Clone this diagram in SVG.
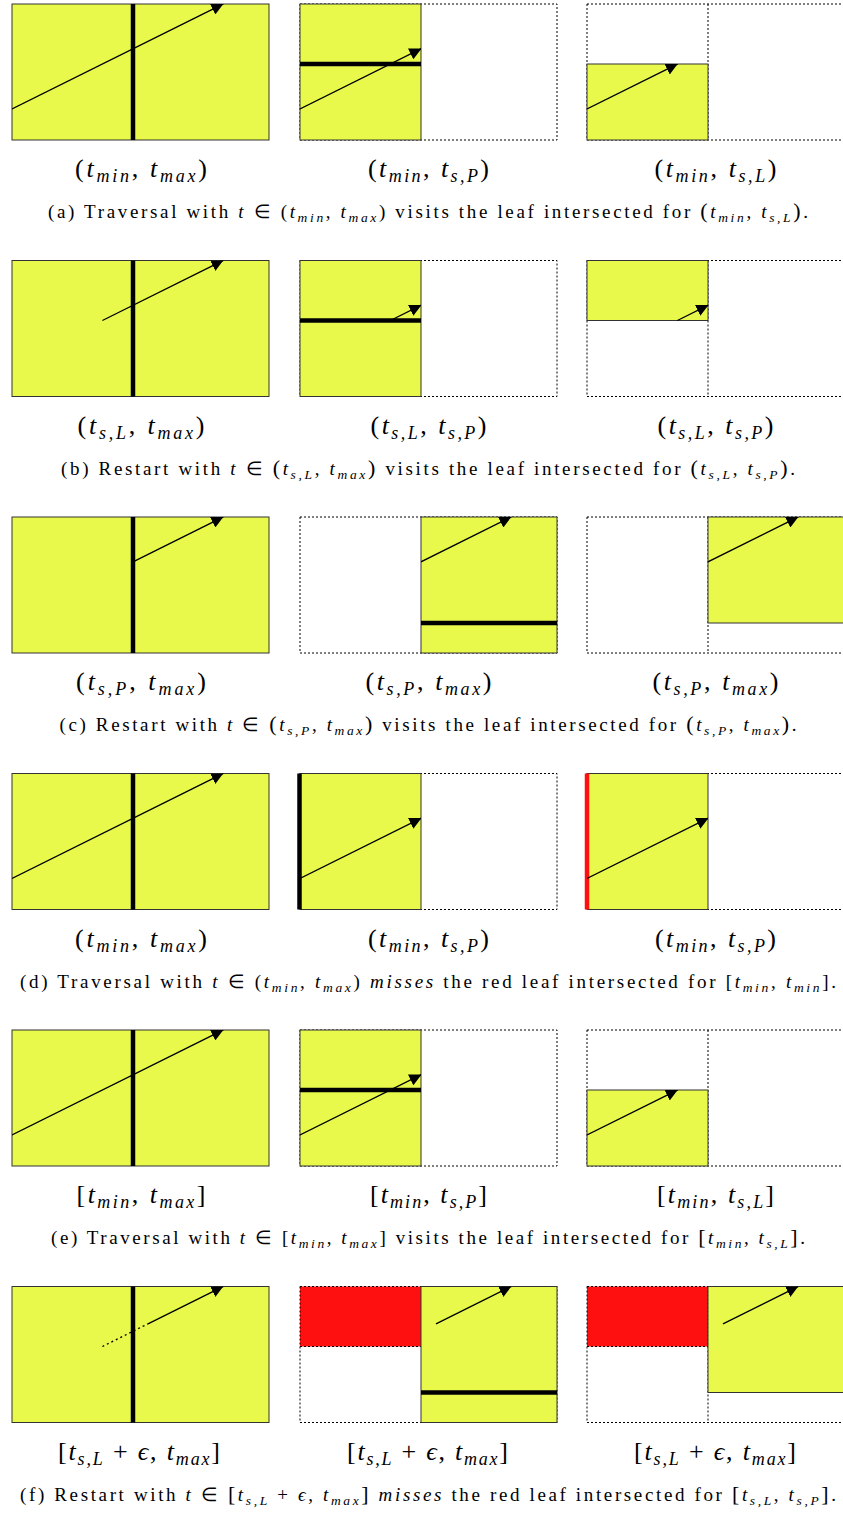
<svg xmlns="http://www.w3.org/2000/svg" width="843" height="1513" viewBox="0 0 843 1513">
<style>
.y{fill:#E9F94C;stroke:#333;stroke-width:1}
.d{fill:none;stroke:#000;stroke-width:1;stroke-dasharray:2 2}
.k{stroke:#000;stroke-width:4.5}
.kr{stroke:#FF1010;stroke-width:4.5}
.ray{stroke:#000;stroke-width:1.3;fill:none;marker-end:url(#ah)}
.rd{stroke:#000;stroke-width:1.3;stroke-dasharray:2 3;fill:none}
.red{fill:#FF1010}
.lb{font-family:"Liberation Serif",serif;font-size:26px;text-anchor:middle;fill:#000}
.cap{font-family:"Liberation Serif",serif;font-size:19px;text-anchor:middle;fill:#000}
.i{font-style:italic}
.ls{font-size:18px;font-style:italic}
.cs{font-size:13.5px;font-style:italic}
.bp{font-size:22px}
</style>
<defs>
<marker id="ah" markerUnits="userSpaceOnUse" viewBox="0 0 12 12" refX="12" refY="6" markerWidth="12" markerHeight="12" orient="auto"><path d="M0,0 L12,6 L0,12 Z" fill="#000"/></marker>
<clipPath id="cF" clipPathUnits="userSpaceOnUse"><rect x="0" y="0" width="257" height="136"/></clipPath>
<clipPath id="cL" clipPathUnits="userSpaceOnUse"><rect x="0" y="0" width="121" height="136"/></clipPath>
<clipPath id="cBL" clipPathUnits="userSpaceOnUse"><rect x="0" y="60" width="121" height="76"/></clipPath>
<clipPath id="cTL" clipPathUnits="userSpaceOnUse"><rect x="-1" y="0" width="122" height="61"/></clipPath>
<clipPath id="cR" clipPathUnits="userSpaceOnUse"><rect x="121" y="0" width="136" height="136"/></clipPath>
<clipPath id="cTR" clipPathUnits="userSpaceOnUse"><rect x="121" y="0" width="136" height="106"/></clipPath>
</defs>

<!-- Row (a) -->
<g id="a1" transform="translate(12,4)">
<rect class="y" x="0" y="0" width="257" height="136"/>
<line class="k" x1="121" y1="0" x2="121" y2="136"/>
<g clip-path="url(#cF)"><line class="ray" x1="0" y1="105" x2="211.4" y2="-0.2"/></g>
</g>
<g id="a2" transform="translate(300,4)">
<rect class="d" x="0" y="0" width="257" height="136"/>
<rect class="y" x="0" y="0" width="121" height="136"/>
<line class="k" x1="0" y1="60" x2="121" y2="60"/>
<g clip-path="url(#cL)"><line class="ray" x1="0" y1="105" x2="121.4" y2="44.6"/></g>
</g>
<g id="a3" transform="translate(587,4)">
<rect class="d" x="0" y="0" width="257" height="136"/>
<line class="d" x1="121" y1="0" x2="121" y2="136"/>
<rect class="y" x="0" y="60" width="121" height="76"/>
<g clip-path="url(#cBL)"><line class="ray" x1="0" y1="105" x2="90.8" y2="59.8"/></g>
</g>
<g id="a-labels">
<text class="lb" x="141" y="177" textLength="132" lengthAdjust="spacing">(<tspan class="i">t</tspan><tspan class="ls" dy="5">min</tspan><tspan dy="-5">, </tspan><tspan class="i">t</tspan><tspan class="ls" dy="5">max</tspan><tspan dy="-5">)</tspan></text>
<text class="lb" x="428.5" y="177" textLength="121" lengthAdjust="spacing">(<tspan class="i">t</tspan><tspan class="ls" dy="5">min</tspan><tspan dy="-5">, </tspan><tspan class="i">t</tspan><tspan class="ls" dy="5">s,P</tspan><tspan dy="-5">)</tspan></text>
<text class="lb" x="715.5" y="177" textLength="122" lengthAdjust="spacing">(<tspan class="i">t</tspan><tspan class="ls" dy="5">min</tspan><tspan dy="-5">, </tspan><tspan class="i">t</tspan><tspan class="ls" dy="5">s,L</tspan><tspan dy="-5">)</tspan></text>
<text class="cap" x="428" y="218" textLength="760" lengthAdjust="spacing">(a) Traversal with <tspan class="i">t</tspan> ∈ (<tspan class="i">t</tspan><tspan class="cs" dy="4">min</tspan><tspan dy="-4">, </tspan><tspan class="i">t</tspan><tspan class="cs" dy="4">max</tspan><tspan dy="-4">) visits the leaf intersected for </tspan><tspan class="bp">(</tspan><tspan class="i">t</tspan><tspan class="cs" dy="4">min</tspan><tspan dy="-4">, </tspan><tspan class="i">t</tspan><tspan class="cs" dy="4">s,L</tspan><tspan class="bp" dy="-4">)</tspan>.</text>
</g>

<!-- Row (b) -->
<g id="b1" transform="translate(12,260.5)">
<rect class="y" x="0" y="0" width="257" height="136"/>
<line class="k" x1="121" y1="0" x2="121" y2="136"/>
<g clip-path="url(#cF)"><line class="ray" x1="90.4" y1="60" x2="211.4" y2="-0.2"/></g>
</g>
<g id="b2" transform="translate(300,260.5)">
<rect class="d" x="0" y="0" width="257" height="136"/>
<rect class="y" x="0" y="0" width="121" height="136"/>
<line class="k" x1="0" y1="60" x2="121" y2="60"/>
<g clip-path="url(#cL)"><line class="ray" x1="90.4" y1="60" x2="121.4" y2="44.6"/></g>
</g>
<g id="b3" transform="translate(587,260.5)">
<rect class="d" x="0" y="0" width="257" height="136"/>
<line class="d" x1="121" y1="0" x2="121" y2="136"/>
<rect class="y" x="0" y="0" width="121" height="60"/>
<g clip-path="url(#cTL)"><line class="ray" x1="90.4" y1="60" x2="121.4" y2="44.6"/></g>
</g>
<g id="b-labels">
<text class="lb" x="141" y="433.5" textLength="127" lengthAdjust="spacing">(<tspan class="i">t</tspan><tspan class="ls" dy="5">s,L</tspan><tspan dy="-5">, </tspan><tspan class="i">t</tspan><tspan class="ls" dy="5">max</tspan><tspan dy="-5">)</tspan></text>
<text class="lb" x="428.5" y="433.5" textLength="116" lengthAdjust="spacing">(<tspan class="i">t</tspan><tspan class="ls" dy="5">s,L</tspan><tspan dy="-5">, </tspan><tspan class="i">t</tspan><tspan class="ls" dy="5">s,P</tspan><tspan dy="-5">)</tspan></text>
<text class="lb" x="715.5" y="433.5" textLength="116" lengthAdjust="spacing">(<tspan class="i">t</tspan><tspan class="ls" dy="5">s,L</tspan><tspan dy="-5">, </tspan><tspan class="i">t</tspan><tspan class="ls" dy="5">s,P</tspan><tspan dy="-5">)</tspan></text>
<text class="cap" x="428" y="474.5" textLength="734" lengthAdjust="spacing">(b) Restart with <tspan class="i">t</tspan> ∈ <tspan class="bp">(</tspan><tspan class="i">t</tspan><tspan class="cs" dy="4">s,L</tspan><tspan dy="-4">, </tspan><tspan class="i">t</tspan><tspan class="cs" dy="4">max</tspan><tspan class="bp" dy="-4">)</tspan> visits the leaf intersected for <tspan class="bp">(</tspan><tspan class="i">t</tspan><tspan class="cs" dy="4">s,L</tspan><tspan dy="-4">, </tspan><tspan class="i">t</tspan><tspan class="cs" dy="4">s,P</tspan><tspan class="bp" dy="-4">)</tspan>.</text>
</g>

<!-- Row (c) -->
<g id="c1" transform="translate(12,517)">
<rect class="y" x="0" y="0" width="257" height="136"/>
<line class="k" x1="121" y1="0" x2="121" y2="136"/>
<g clip-path="url(#cF)"><line class="ray" x1="121" y1="44.8" x2="211.4" y2="-0.2"/></g>
</g>
<g id="c2" transform="translate(300,517)">
<rect class="d" x="0" y="0" width="257" height="136"/>
<rect class="y" x="121" y="0" width="136" height="136"/>
<line class="k" x1="121" y1="106" x2="257" y2="106"/>
<g clip-path="url(#cR)"><line class="ray" x1="121" y1="44.8" x2="211.4" y2="-0.2"/></g>
</g>
<g id="c3" transform="translate(587,517)">
<rect class="d" x="0" y="0" width="257" height="136"/>
<line class="d" x1="121" y1="0" x2="121" y2="136"/>
<rect class="y" x="121" y="0" width="136" height="106"/>
<g clip-path="url(#cTR)"><line class="ray" x1="121" y1="44.8" x2="211.4" y2="-0.2"/></g>
</g>
<g id="c-labels">
<text class="lb" x="141" y="690" textLength="130" lengthAdjust="spacing">(<tspan class="i">t</tspan><tspan class="ls" dy="5">s,P</tspan><tspan dy="-5">, </tspan><tspan class="i">t</tspan><tspan class="ls" dy="5">max</tspan><tspan dy="-5">)</tspan></text>
<text class="lb" x="428.5" y="690" textLength="126" lengthAdjust="spacing">(<tspan class="i">t</tspan><tspan class="ls" dy="5">s,P</tspan><tspan dy="-5">, </tspan><tspan class="i">t</tspan><tspan class="ls" dy="5">max</tspan><tspan dy="-5">)</tspan></text>
<text class="lb" x="715.5" y="690" textLength="126" lengthAdjust="spacing">(<tspan class="i">t</tspan><tspan class="ls" dy="5">s,P</tspan><tspan dy="-5">, </tspan><tspan class="i">t</tspan><tspan class="ls" dy="5">max</tspan><tspan dy="-5">)</tspan></text>
<text class="cap" x="428" y="731" textLength="737" lengthAdjust="spacing">(c) Restart with <tspan class="i">t</tspan> ∈ <tspan class="bp">(</tspan><tspan class="i">t</tspan><tspan class="cs" dy="4">s,P</tspan><tspan dy="-4">, </tspan><tspan class="i">t</tspan><tspan class="cs" dy="4">max</tspan><tspan class="bp" dy="-4">)</tspan> visits the leaf intersected for <tspan class="bp">(</tspan><tspan class="i">t</tspan><tspan class="cs" dy="4">s,P</tspan><tspan dy="-4">, </tspan><tspan class="i">t</tspan><tspan class="cs" dy="4">max</tspan><tspan class="bp" dy="-4">)</tspan>.</text>
</g>

<!-- Row (d) -->
<g id="d1" transform="translate(12,773.5)">
<rect class="y" x="0" y="0" width="257" height="136"/>
<line class="k" x1="121" y1="0" x2="121" y2="136"/>
<g clip-path="url(#cF)"><line class="ray" x1="0" y1="105" x2="211.4" y2="-0.2"/></g>
</g>
<g id="d2" transform="translate(300,773.5)">
<rect class="d" x="0" y="0" width="257" height="136"/>
<rect class="y" x="0" y="0" width="121" height="136"/>
<line class="k" x1="-0.5" y1="0" x2="-0.5" y2="136"/>
<g clip-path="url(#cL)"><line class="ray" x1="0" y1="105" x2="121.4" y2="44.6"/></g>
</g>
<g id="d3" transform="translate(587,773.5)">
<rect class="d" x="0" y="0" width="257" height="136"/>
<rect class="y" x="0" y="0" width="121" height="136"/>
<line class="kr" x1="0" y1="0" x2="0" y2="136"/>
<g clip-path="url(#cL)"><line class="ray" x1="0" y1="105" x2="121.4" y2="44.6"/></g>
</g>
<g id="d-labels">
<text class="lb" x="141" y="946.5" textLength="132" lengthAdjust="spacing">(<tspan class="i">t</tspan><tspan class="ls" dy="5">min</tspan><tspan dy="-5">, </tspan><tspan class="i">t</tspan><tspan class="ls" dy="5">max</tspan><tspan dy="-5">)</tspan></text>
<text class="lb" x="428.5" y="946.5" textLength="121" lengthAdjust="spacing">(<tspan class="i">t</tspan><tspan class="ls" dy="5">min</tspan><tspan dy="-5">, </tspan><tspan class="i">t</tspan><tspan class="ls" dy="5">s,P</tspan><tspan dy="-5">)</tspan></text>
<text class="lb" x="715.5" y="946.5" textLength="121" lengthAdjust="spacing">(<tspan class="i">t</tspan><tspan class="ls" dy="5">min</tspan><tspan dy="-5">, </tspan><tspan class="i">t</tspan><tspan class="ls" dy="5">s,P</tspan><tspan dy="-5">)</tspan></text>
<text class="cap" x="428" y="987.5" textLength="816" lengthAdjust="spacing">(d) Traversal with <tspan class="i">t</tspan> ∈ (<tspan class="i">t</tspan><tspan class="cs" dy="4">min</tspan><tspan dy="-4">, </tspan><tspan class="i">t</tspan><tspan class="cs" dy="4">max</tspan><tspan dy="-4">) </tspan><tspan class="i">misses</tspan> the red leaf intersected for [<tspan class="i">t</tspan><tspan class="cs" dy="4">min</tspan><tspan dy="-4">, </tspan><tspan class="i">t</tspan><tspan class="cs" dy="4">min</tspan><tspan dy="-4">].</tspan></text>
</g>

<!-- Row (e) -->
<g id="e1" transform="translate(12,1030)">
<rect class="y" x="0" y="0" width="257" height="136"/>
<line class="k" x1="121" y1="0" x2="121" y2="136"/>
<g clip-path="url(#cF)"><line class="ray" x1="0" y1="105" x2="211.4" y2="-0.2"/></g>
</g>
<g id="e2" transform="translate(300,1030)">
<rect class="d" x="0" y="0" width="257" height="136"/>
<rect class="y" x="0" y="0" width="121" height="136"/>
<line class="k" x1="0" y1="60" x2="121" y2="60"/>
<g clip-path="url(#cL)"><line class="ray" x1="0" y1="105" x2="121.4" y2="44.6"/></g>
</g>
<g id="e3" transform="translate(587,1030)">
<rect class="d" x="0" y="0" width="257" height="136"/>
<line class="d" x1="121" y1="0" x2="121" y2="136"/>
<rect class="y" x="0" y="60" width="121" height="76"/>
<g clip-path="url(#cBL)"><line class="ray" x1="0" y1="105" x2="90.8" y2="59.8"/></g>
</g>
<g id="e-labels">
<text class="lb" x="141" y="1203" textLength="129" lengthAdjust="spacing">[<tspan class="i">t</tspan><tspan class="ls" dy="5">min</tspan><tspan dy="-5">, </tspan><tspan class="i">t</tspan><tspan class="ls" dy="5">max</tspan><tspan dy="-5">]</tspan></text>
<text class="lb" x="428.5" y="1203" textLength="117" lengthAdjust="spacing">[<tspan class="i">t</tspan><tspan class="ls" dy="5">min</tspan><tspan dy="-5">, </tspan><tspan class="i">t</tspan><tspan class="ls" dy="5">s,P</tspan><tspan dy="-5">]</tspan></text>
<text class="lb" x="715.5" y="1203" textLength="117" lengthAdjust="spacing">[<tspan class="i">t</tspan><tspan class="ls" dy="5">min</tspan><tspan dy="-5">, </tspan><tspan class="i">t</tspan><tspan class="ls" dy="5">s,L</tspan><tspan dy="-5">]</tspan></text>
<text class="cap" x="428" y="1244" textLength="754" lengthAdjust="spacing">(e) Traversal with <tspan class="i">t</tspan> ∈ [<tspan class="i">t</tspan><tspan class="cs" dy="4">min</tspan><tspan dy="-4">, </tspan><tspan class="i">t</tspan><tspan class="cs" dy="4">max</tspan><tspan dy="-4">] visits the leaf intersected for </tspan><tspan class="bp">[</tspan><tspan class="i">t</tspan><tspan class="cs" dy="4">min</tspan><tspan dy="-4">, </tspan><tspan class="i">t</tspan><tspan class="cs" dy="4">s,L</tspan><tspan class="bp" dy="-4">]</tspan>.</text>
</g>

<!-- Row (f) -->
<g id="f1" transform="translate(12,1286.5)">
<rect class="y" x="0" y="0" width="257" height="136"/>
<line class="k" x1="121" y1="0" x2="121" y2="136"/>
<line class="rd" x1="90.4" y1="60" x2="136" y2="37.3"/>
<g clip-path="url(#cF)"><line class="ray" x1="136" y1="37.3" x2="211.4" y2="-0.2"/></g>
</g>
<g id="f2" transform="translate(300,1286.5)">
<rect class="red" x="0" y="0" width="121" height="60"/>
<rect class="d" x="0" y="0" width="257" height="136"/>
<line class="d" x1="0" y1="60" x2="121" y2="60"/>
<rect class="y" x="121" y="0" width="136" height="136"/>
<line class="k" x1="121" y1="106" x2="257" y2="106"/>
<g clip-path="url(#cR)"><line class="ray" x1="136" y1="37.3" x2="211.4" y2="-0.2"/></g>
</g>
<g id="f3" transform="translate(587,1286.5)">
<rect class="red" x="0" y="0" width="121" height="60"/>
<rect class="d" x="0" y="0" width="257" height="136"/>
<line class="d" x1="0" y1="60" x2="121" y2="60"/>
<line class="d" x1="121" y1="0" x2="121" y2="136"/>
<rect class="y" x="121" y="0" width="136" height="106"/>
<g clip-path="url(#cTR)"><line class="ray" x1="136" y1="37.3" x2="211.4" y2="-0.2"/></g>
</g>
<g id="f-labels">
<text class="lb" x="139" y="1459.5" textLength="162" lengthAdjust="spacing">[<tspan class="i">t</tspan><tspan class="ls" dy="5">s,L</tspan><tspan dy="-5"> + </tspan><tspan class="i">ϵ</tspan>, <tspan class="i">t</tspan><tspan class="ls" dy="5">max</tspan><tspan dy="-5">]</tspan></text>
<text class="lb" x="427.5" y="1459.5" textLength="161" lengthAdjust="spacing">[<tspan class="i">t</tspan><tspan class="ls" dy="5">s,L</tspan><tspan dy="-5"> + </tspan><tspan class="i">ϵ</tspan>, <tspan class="i">t</tspan><tspan class="ls" dy="5">max</tspan><tspan dy="-5">]</tspan></text>
<text class="lb" x="715" y="1459.5" textLength="162" lengthAdjust="spacing">[<tspan class="i">t</tspan><tspan class="ls" dy="5">s,L</tspan><tspan dy="-5"> + </tspan><tspan class="i">ϵ</tspan>, <tspan class="i">t</tspan><tspan class="ls" dy="5">max</tspan><tspan dy="-5">]</tspan></text>
<text class="cap" x="428" y="1500.5" textLength="816" lengthAdjust="spacing">(f) Restart with <tspan class="i">t</tspan> ∈ <tspan class="bp">[</tspan><tspan class="i">t</tspan><tspan class="cs" dy="4">s,L</tspan><tspan dy="-4"> + </tspan><tspan class="i">ϵ</tspan>, <tspan class="i">t</tspan><tspan class="cs" dy="4">max</tspan><tspan class="bp" dy="-4">]</tspan> <tspan class="i">misses</tspan> the red leaf intersected for <tspan class="bp">[</tspan><tspan class="i">t</tspan><tspan class="cs" dy="4">s,L</tspan><tspan dy="-4">, </tspan><tspan class="i">t</tspan><tspan class="cs" dy="4">s,P</tspan><tspan class="bp" dy="-4">]</tspan>.</text>
</g>
</svg>
